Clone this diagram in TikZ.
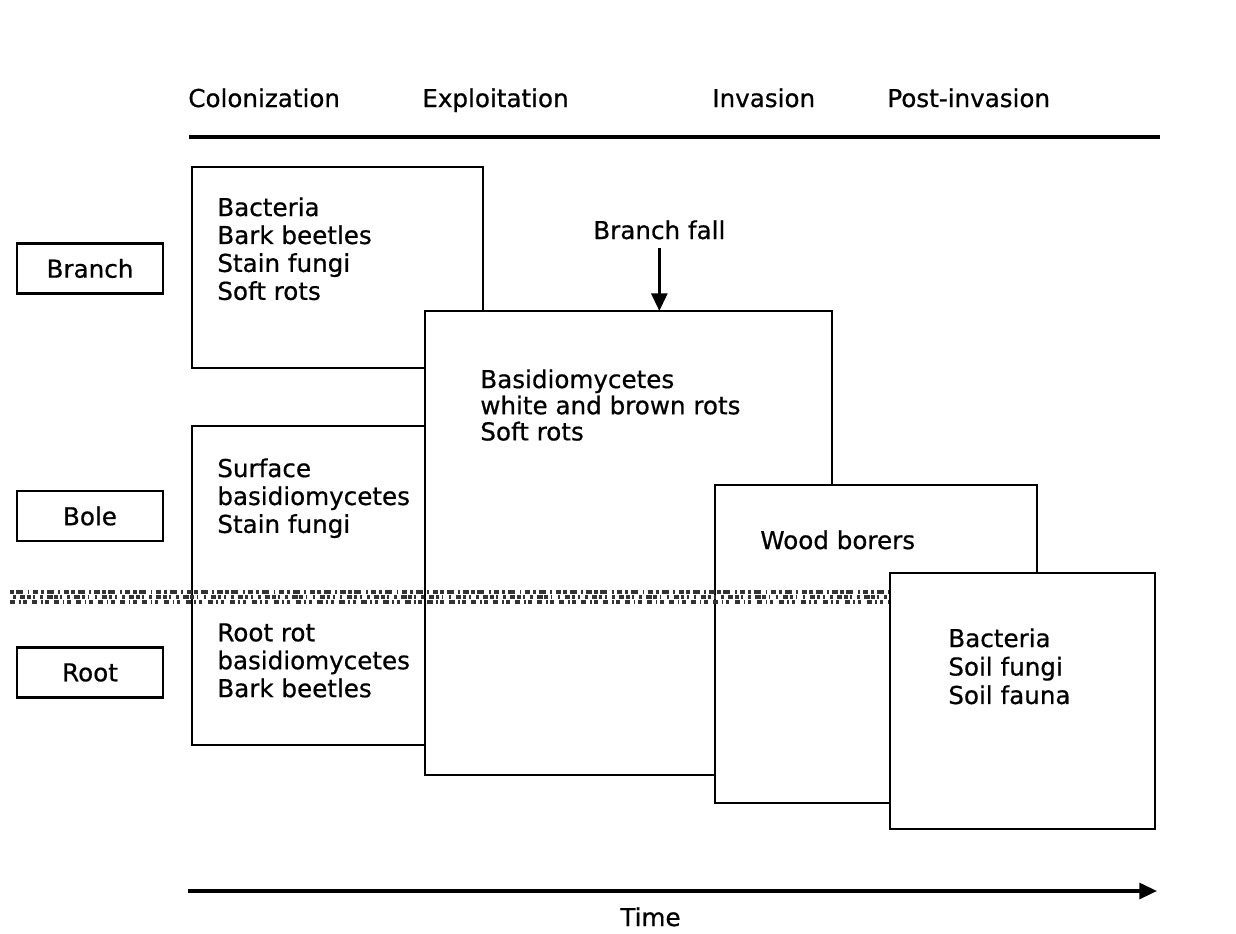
\documentclass[tikz,border=0pt]{standalone}
\usepackage{fontspec}
\setmainfont[FakeBold=0.6]{DejaVu Sans}
\usetikzlibrary{arrows.meta}
\begin{document}
\begin{tikzpicture}[x=0.02cm,y=-0.02cm,
  lbl/.style={font=\fontsize{14}{15.9}\selectfont, inner sep=0pt, align=left, anchor=north west},
  one/.style={font=\fontsize{14}{16}\selectfont, inner sep=0pt, anchor=base west},
  panel/.style={draw, line width=1.6pt, fill=white, inner sep=0pt, outer sep=0pt, anchor=north west},
  tag/.style={draw, line width=1.6pt, inner sep=0pt, minimum width=2.92cm, minimum height=1cm, font=\fontsize{14}{16}\selectfont},
  rulel/.style={line width=2pt},
  tip/.style={-{Triangle[length=10pt,width=9pt]}, line width=1.8pt},
  soil/.style={line width=2.4pt, black!80},
]
\useasboundingbox (0,0) rectangle (1236,933);
\fill[white] (0,0) rectangle (1236,933);

% headings
\node[one] (hcol) at (188,107) {Colonization};
\node[one] (hexp) at (422,107) {Exploitation};
\node[one] (hinv) at (712,107) {Invasion};
\node[one] (hpost) at (887,107) {Post-invasion};
\coordinate (hl1) at (189,137);
\coordinate (hl2) at (1160,137);
\draw[rulel] (hl1) -- (hl2);

% left tags
\node[tag] (branch) at (90,268.5) {Branch};
\node[tag] (bole) at (90,516) {Bole};
\node[tag] (root) at (90,672.5) {Root};

% panels
\node[panel, minimum width=5.82cm, minimum height=4.02cm] (p1) at (192,167) {};
\node[panel, minimum width=5.8cm, minimum height=6.38cm] (p3) at (192,426) {};
\node[panel, minimum width=8.14cm, minimum height=9.28cm] (p2) at (425,311) {};
\node[panel, minimum width=6.44cm, minimum height=6.36cm] (p4) at (715,485) {};

% soil surface band
\coordinate (s1) at (10,592);  \coordinate (s2) at (890,592);
\coordinate (s3) at (13,597);  \coordinate (s4) at (890,597);
\coordinate (s5) at (10,602);  \coordinate (s6) at (890,602);
\draw[soil, dash pattern=on 2pt off 1.5pt on 4pt off 2.5pt on 1pt off 2pt on 3pt off 1.5pt] (s1) -- (s2);
\draw[soil, dash pattern=on 1.5pt off 2.5pt on 3pt off 1pt on 2pt off 1.5pt on 1pt off 3pt] (s3) -- (s4);
\draw[soil, line width=2pt, dash pattern=on 3pt off 2pt on 1pt off 1.5pt on 2pt off 3pt] (s5) -- (s6);

\node[panel, minimum width=5.3cm, minimum height=5.12cm] (p5) at (890,573) {};

% texts
\node[lbl] (t1) at (217,197) {Bacteria\\Bark beetles\\Stain fungi\\Soft rots};
\node[lbl, font=\fontsize{14}{14.9}\selectfont] (t2) at (480,369) {Basidiomycetes\\white and brown rots\\Soft rots};
\node[lbl] (t3) at (217,458) {Surface\\basidiomycetes\\Stain fungi};
\node[lbl] (t4) at (217,623) {Root rot\\basidiomycetes\\Bark beetles};
\node[one] (t5) at (760,549) {Wood borers};
\node[lbl, font=\fontsize{14}{16.2}\selectfont] (t6) at (948,628) {Bacteria\\Soil fungi\\Soil fauna};

% branch fall
\node[one] (bf) at (593,239) {Branch fall};
\draw[tip] ([yshift=-5pt]bf.south) -- (bf.south |- p2.north);

% time axis
\coordinate (ta) at (188,891);
\coordinate (tb) at (1157,891);
\draw[tip] (ta) -- (tb);
\node[one] (time) at (620,926) {Time};
\end{tikzpicture}
\end{document}
